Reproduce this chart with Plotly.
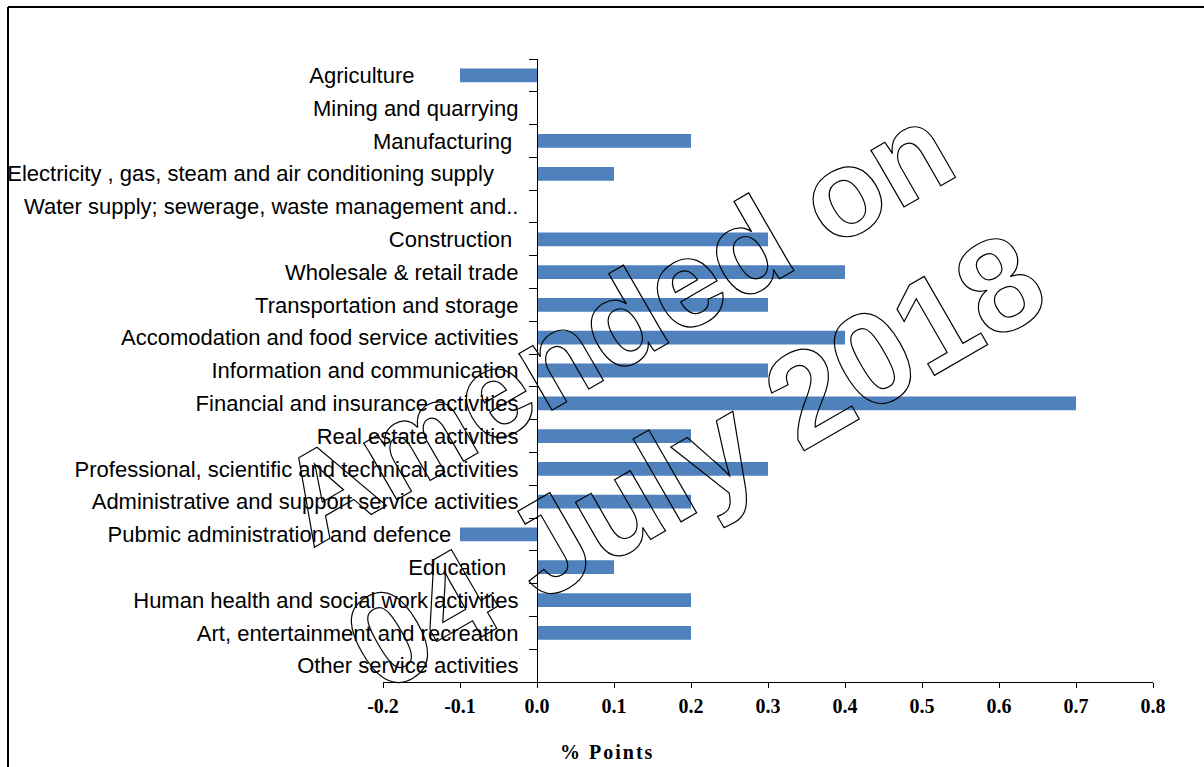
import plotly.graph_objects as go

# ---- data ----
categories = [
    "Agriculture",
    "Mining and quarrying",
    "Manufacturing",
    "Electricity , gas, steam and air conditioning supply",
    "Water supply; sewerage, waste management and..",
    "Construction",
    "Wholesale & retail trade",
    "Transportation and storage",
    "Accomodation and food service activities",
    "Information and communication",
    "Financial and insurance activities",
    "Real estate activities",
    "Professional, scientific and technical activities",
    "Administrative and support service activities",
    "Pubmic administration and defence",
    "Education",
    "Human health and social work activities",
    "Art, entertainment and recreation",
    "Other service activities",
]
values = [-0.1, 0.0, 0.2, 0.1, 0.0, 0.3, 0.4, 0.3, 0.4, 0.3, 0.7, 0.2, 0.3, 0.2, -0.1, 0.1, 0.2, 0.2, 0.0]
x_tick_values = [-0.2, -0.1, 0.0, 0.1, 0.2, 0.3, 0.4, 0.5, 0.6, 0.7, 0.8]
x_tick_labels = ["-0.2", "-0.1", "0.0", "0.1", "0.2", "0.3", "0.4", "0.5", "0.6", "0.7", "0.8"]
x_title = "% Points"
watermark_line1 = "Amended on"
watermark_line2 = "04 July 2018"

# ---- styling: trailing padding of some labels (as in the original) ----
label_pad = {"Agriculture": 17, "Manufacturing": 1,
             "Electricity , gas, steam and air conditioning supply": 4,
             "Construction": 1, "Pubmic administration and defence": 11,
             "Education": 2}
tick_text = [c + "\u00a0" * label_pad.get(c, 0) for c in categories]
watermark_text = watermark_line1 + "<br><span style='font-size:132px'>" + watermark_line2 + "</span>"

W, H = 1204, 767
L, R, T, B = 383, 51, 59, 85
pw, ph = W - L - R, H - T - B

def px_x(x):
    return (x - L) / pw

def px_y(y):
    return 1 - (y - T) / ph

fig = go.Figure(go.Bar(
    y=categories, x=values, orientation="h",
    marker=dict(color="#4F81BD", line=dict(width=0)),
))

fig.update_layout(
    width=W, height=H,
    margin=dict(l=L, r=R, t=T, b=B, pad=0, autoexpand=False),
    plot_bgcolor="white", paper_bgcolor="white",
    showlegend=False,
    bargap=0.58,
    xaxis=dict(
        range=[-0.2, 0.8], tickvals=x_tick_values, ticktext=x_tick_labels,
        showgrid=False, zeroline=False, automargin=False,
        showline=True, linecolor="black", linewidth=1.3,
        ticks="outside", ticklen=5, tickcolor="black", tickwidth=1.3,
        tickfont=dict(family="Liberation Serif", size=20, color="black", weight="bold"),
        ticklabelstandoff=1,
        domain=[0, 1],
    ),
    yaxis=dict(
        type="category", categoryorder="array", categoryarray=categories,
        tickvals=categories, ticktext=tick_text,
        autorange="reversed", automargin=False,
        anchor="free", position=0.2,
        showgrid=False, zeroline=False,
        showline=True, linecolor="black", linewidth=1.3,
        ticks="outside", ticklen=8, tickcolor="black", tickwidth=1.3,
        tickson="boundaries",
        tickfont=dict(family="Liberation Sans", size=22, color="black"),
        ticklabelstandoff=14,
    ),
    annotations=[
        dict(text=watermark_text, xref="paper", yref="paper",
             x=px_x(656), y=px_y(394), xanchor="center", yanchor="middle",
             showarrow=False, textangle=-30,
             font=dict(family="Liberation Sans", size=124, color="black", weight="bold")),
        dict(text=x_title, xref="paper", yref="paper",
             x=px_x(607), y=px_y(752), xanchor="center", yanchor="middle",
             showarrow=False,
             font=dict(family="Liberation Serif", size=20, color="black", weight="bold")),
    ],
    shapes=[
        dict(type="line", xref="paper", yref="paper", x0=px_x(8), x1=1.2, y0=px_y(7), y1=px_y(7),
             line=dict(color="black", width=2)),
        dict(type="line", xref="paper", yref="paper", x0=px_x(8), x1=px_x(8), y0=px_y(7), y1=-0.3,
             line=dict(color="black", width=2)),
    ],
)

post = ("var s=document.createElement('style');"
        "s.textContent='html,body{margin:0 !important;padding:0 !important;overflow:hidden;}"
        ".annotation[data-index=\"0\"] .annotation-text{fill:none !important;"
        "stroke:#000 !important;stroke-width:1.2px !important;}"
        ".annotation[data-index=\"1\"] .annotation-text{letter-spacing:2px;}';"
        "document.head.appendChild(s);")

fig.write_html("out.html", post_script=post, config={"displayModeBar": False})
